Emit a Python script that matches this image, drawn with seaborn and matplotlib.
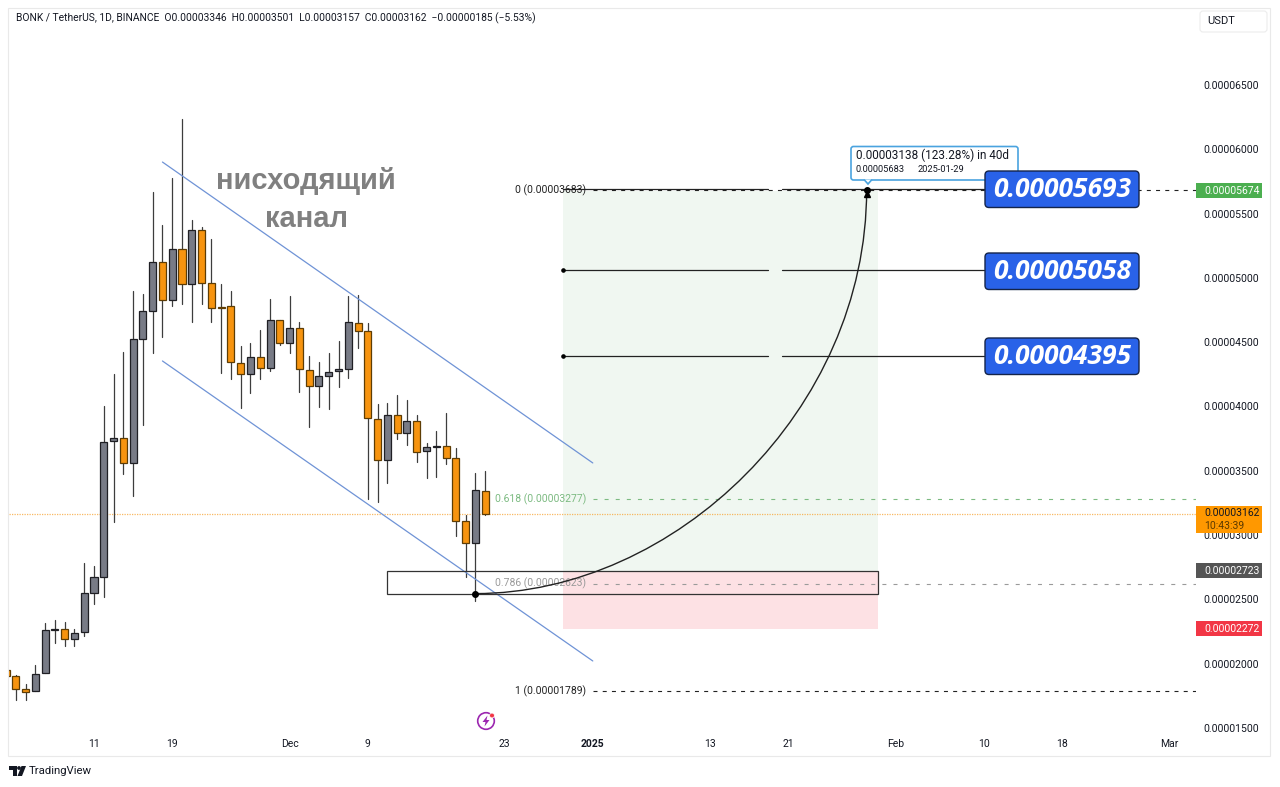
import numpy as np
import pandas as pd
import seaborn as sns
import matplotlib.pyplot as plt
import matplotlib.dates as mdates
from matplotlib.patches import Rectangle, FancyBboxPatch, PathPatch, Polygon, Circle
from matplotlib.path import Path
from matplotlib.ticker import FuncFormatter
from matplotlib.transforms import Affine2D

# prices are in units of 0.00000001
first_day = '2024-11-02'
opens = [1950, 1904, 1801, 1785, 1925, 2262, 2268, 2192, 2244, 2548, 2672, 3729, 3753, 3563, 4527, 4743, 5126,
         4826, 5222, 4950, 5370, 4958, 4776, 4781, 4341, 4253, 4383, 4297, 4673, 4496, 4610, 4284, 4162, 4240,
         4274, 4294, 4652, 4587, 3903, 3586, 3936, 3792, 3885, 3652, 3687, 3693, 3597, 3110, 2941, 3346]
highs = [1960, 1912, 1842, 1988, 2319, 2340, 2327, 2268, 2785, 2760, 4004, 4250, 4426, 4900, 4875, 5668, 5409,
         5775, 6236, 5450, 5394, 5305, 4953, 4900, 4470, 4496, 4595, 4834, 4673, 4859, 4659, 4393, 4348, 4418,
         4509, 4859, 4869, 4647, 4017, 4030, 4089, 4051, 3936, 3714, 3807, 3952, 3675, 3156, 3481, 3501]
lows = [1850, 1718, 1718, 1785, 1925, 2163, 2138, 2138, 2215, 2464, 2516, 3104, 3475, 3306, 3856, 4418, 4538,
        4784, 4797, 4659, 4797, 4655, 4263, 4212, 3988, 4107, 4212, 4278, 4478, 4418, 4115, 3843, 3999, 3983,
        4149, 4219, 4455, 3278, 3257, 3408, 3750, 3698, 3569, 3442, 3449, 3551, 2993, 2672, 2488, 3157]
closes = [1904, 1806, 1782, 1920, 2262, 2268, 2192, 2241, 2548, 2672, 3726, 3753, 3563, 4527, 4740, 5126, 4826,
          5222, 4950, 5370, 4958, 4768, 4766, 4344, 4250, 4385, 4297, 4670, 4496, 4610, 4289, 4162, 4235, 4266,
          4292, 4655, 4589, 3908, 3586, 3936, 3792, 3885, 3649, 3683, 3695, 3600, 3112, 2941, 3348, 3162]

price_ticks = [1500, 2000, 2500, 3000, 3500, 4000, 4500, 5000, 5500, 6000, 6500]
date_ticks = ['2024-11-11', '2024-11-19', '2024-12-01', '2024-12-09', '2024-12-23', '2025-01-01',
              '2025-01-13', '2025-01-21', '2025-02-01', '2025-02-10', '2025-02-18', '2025-03-01']
date_labels = ['11', '19', 'Dec', '9', '23', '2025', '13', '21', 'Feb', '10', '18', 'Mar']

channel_dates = ['2024-11-18', '2025-01-01']
channel_upper = [5901, 3561]
channel_lower = [4354, 2021]

position_dates = ['2024-12-29', '2025-01-30']
entry_box_start = '2024-12-11'
entry_price = 2723
target_price = 5674
stop_price = 2272
box_low = 2538

fib_start = '2025-01-01'
fib_prices = [5683, 3277, 2623, 1789]
fib_labels = ['0 (0.00003683)', '0.618 (0.00003277)', '0.786 (0.00002623)', '1 (0.00001789)']
fib_colors = ['#222222', '#7dbb82', '#9a9a9a', '#222222']

target_levels = [5693, 5058, 4395]
target_start = '2024-12-29'
target_gap = [68.9, 70.35]
target_end = '2025-02-10'

curve_start = '2024-12-20'
curve_days = [0, 20.4, 40, 40]
curve_prices = [2545, 2545, 3973, 5683]

last_price = 3162

sns.set_theme(style='white')
plt.rcParams['font.family'] = ['Roboto', 'DejaVu Sans']

W, H = 1280, 787
fig = plt.figure(figsize=(W / 100, H / 100), dpi=100)
ax = fig.add_axes([9 / W, 1 - 756 / H, (1196 - 9) / W, (756 - 8) / H])
px = Affine2D().scale(1, -1).translate(0, H)  # pixel coords, y going down

days = mdates.date2num(pd.date_range(first_day, periods=len(opens)))
num = lambda d: mdates.date2num(pd.Timestamp(d))

candles = pd.DataFrame({'day': days, 'open': opens, 'high': highs, 'low': lows, 'close': closes})
candles['up'] = candles['close'] >= candles['open']
candles['bottom'] = candles[['open', 'close']].min(axis=1)
candles['height'] = (candles['close'] - candles['open']).abs()

wicks = candles.melt(id_vars='day', value_vars=['high', 'low'], value_name='price')
sns.lineplot(data=wicks, x='day', y='price', units='day', estimator=None, sort=False,
             color='#3d3d3d', linewidth=0.9, legend=False, ax=ax, zorder=3)

for up, fill, edge in [(True, '#787b86', '#1f1f24'), (False, '#f7940f', '#5e3d05')]:
    part = candles[candles['up'] == up]
    sns.barplot(x=part['day'].values, y=part['height'].values, bottom=part['bottom'].values, native_scale=True,
                width=0.72, color=fill, saturation=1, edgecolor=edge, linewidth=0.9, errorbar=None, ax=ax, zorder=4)

# long / short position shading
x0, x1 = num(position_dates[0]), num(position_dates[1]) + 0.16
ax.add_patch(Rectangle((x0, entry_price), x1 - x0, target_price - entry_price, fc='#f0f7f1', ec='none', zorder=1))
ax.add_patch(Rectangle((x0, stop_price), x1 - x0, entry_price - stop_price, fc='#fde1e4', ec='none', zorder=1))

# fib levels
for price, label, color in zip(fib_prices, fib_labels, fib_colors):
    dashes = (0, (3.6, 4.7)) if color == '#222222' else (0, (3.6, 6.4))
    ax.plot([num(fib_start), ax.get_xlim()[1] + 500], [price, price], color=color, lw=0.8, ls=dashes, zorder=2)
    ax.text(num(fib_start) - 0.7, price, label, color=color, fontsize=7.5, ha='right', va='center', zorder=2)
ax.axhline(last_price, color='#f7a83c', lw=0.9, ls=(0, (1, 1)), alpha=0.8, zorder=2)

# channel
for chan in (channel_upper, channel_lower):
    ax.plot([num(d) for d in channel_dates], chan, color='#6f93d6', lw=0.9, zorder=5)

ax.add_patch(Rectangle((num(entry_box_start), box_low), x1 - num(entry_box_start), entry_price - box_low,
                       fc='none', ec='#333333', lw=0.9, zorder=5))

# target lines with the small break in the middle
for i, price in enumerate(target_levels):
    a = num('2024-11-11')
    ax.plot([num(target_start), a + target_gap[0]], [price, price], color='#222222', lw=0.9, zorder=5)
    ax.plot([a + target_gap[1], num(target_end)], [price, price], color='#222222', lw=0.9, zorder=5)
    if i > 0:
        ax.plot(num(target_start), price, 'o', color='black', ms=2.3, zorder=6)

# projection curve
cx = [num(curve_start) + d for d in curve_days]
ax.add_patch(PathPatch(Path(list(zip(cx, curve_prices)), [Path.MOVETO, Path.CURVE4, Path.CURVE4, Path.CURVE4]),
                       fc='none', ec='#222222', lw=1.0, zorder=6))
ax.plot(cx[0], curve_prices[0], 'o', color='black', ms=4, zorder=7)
ax.plot(cx[-1], curve_prices[-1], 'o', color='black', ms=4, zorder=7)
ax.plot(cx[-1], curve_prices[-1] - 28, '^', color='black', ms=4.5, zorder=7)

ax.text(num('2024-11-11') + 21.7, 5750, 'нисходящий', family='Liberation Sans', weight='bold',
        fontsize=21, color='#808080', ha='center', va='center', zorder=5)
ax.text(num('2024-11-11') + 21.7, 5458, 'канал', family='Liberation Sans', weight='bold',
        fontsize=21, color='#808080', ha='center', va='center', zorder=5)

# axes
ax.set_xlim(num('2024-11-11') + (9 - 94) / 9.78, num('2024-11-11') + (1196 - 94) / 9.78)
ax.set_ylim(1282, 7099)
ax.set(xlabel=None, ylabel=None)
ax.set_xticks([num(d) for d in date_ticks])
ax.set_xticklabels(date_labels)
ax.set_yticks(price_ticks)
ax.yaxis.set_major_formatter(FuncFormatter(lambda v, _: f'{v * 1e-8:.8f}'))
ax.yaxis.tick_right()
ax.tick_params(axis='y', length=0, pad=5.6, labelsize=7.5, labelcolor='#131722')
ax.tick_params(axis='x', length=0, pad=-12.5, labelsize=7.5, labelcolor='#131722')
for lab in ax.get_xticklabels():
    if lab.get_text() == '2025':
        lab.set_fontweight('bold')
sns.despine(ax=ax, left=True, bottom=True, top=True, right=True)

# pane frame
fig.add_artist(Rectangle((8, 8), 1262, 748, transform=px, fc='none', ec='#e9e9e9', lw=0.8))
fig.add_artist(FancyBboxPatch((1200, 11), 67, 21, boxstyle='round,pad=0,rounding_size=3', transform=px,
                              fc='white', ec='#ececec', lw=0.8))
fig.text(1207, 21, 'USDT', transform=px, fontsize=8, color='#131722', va='center')
fig.text(16, 18.5, 'BONK / TetherUS, 1D, BINANCE  O0.00003346  H0.00003501  L0.00003157  C0.00003162  −0.00000185 (−5.53%)',
         transform=px, fontsize=7.42, color='#131722', va='center')

# blue target labels
for top, price in zip([171, 253, 338], target_levels):
    ax.add_artist(FancyBboxPatch((985, top), 154, 36.5, boxstyle='round,pad=0,rounding_size=4', transform=px,
                                 fc='#2962e8', ec='#14244a', lw=1.0, zorder=9, clip_on=False))
    ax.text(1062, top + 18.5, f'{price * 1e-8:.8f}', transform=px, family='Open Sans', weight='bold', style='italic',
            fontsize=19, color='white', ha='center', va='center', zorder=10, clip_on=False)

# tooltip
ax.add_artist(FancyBboxPatch((851, 146.5), 167, 33.5, boxstyle='round,pad=0,rounding_size=2.5', transform=px,
                             fc='white', ec='#4aa3df', lw=1.2, zorder=8, clip_on=False))
ax.add_artist(Polygon([(864, 179.5), (868, 184), (872, 179.5)], closed=False, transform=px, fc='white', ec='#4aa3df',
                      lw=1.2, zorder=8, clip_on=False))
ax.text(856, 155.5, '0.00003138 (123.28%) in 40d', transform=px, fontsize=8.5, color='#131722', va='center',
        zorder=9, clip_on=False)
ax.text(856, 170, '0.00005683', transform=px, fontsize=6.7, color='#131722', va='center', zorder=9, clip_on=False)
ax.text(918, 170, '2025-01-29', transform=px, fontsize=6.7, color='#131722', va='center', zorder=9, clip_on=False)

# price tags on the scale
for top, bottom, color, label in [(183, 198, '#4caf50', '0.00005674'), (563, 578, '#555555', '0.00002723'),
                                  (621, 636, '#f23645', '0.00002272')]:
    ax.add_artist(Rectangle((1196, top), 66, bottom - top, transform=px, fc=color, ec='none', zorder=9, clip_on=False))
    ax.text(1204, (top + bottom) / 2, label, transform=px, fontsize=7.5, color='white', va='center', zorder=10,
            clip_on=False)
ax.add_artist(Rectangle((1196, 506), 66, 27, transform=px, fc='#ff9800', ec='none', zorder=9, clip_on=False))
ax.text(1204, 513.5, '0.00003162', transform=px, fontsize=7.5, color='#131722', va='center', zorder=10, clip_on=False)
ax.text(1204, 526, '10:43:39', transform=px, fontsize=7.5, color='#5c3a00', va='center', zorder=10, clip_on=False)

# icon on the time scale
ax.add_artist(Circle((486, 721), 8.3, transform=px, fc='white', ec='#9c27b0', lw=1.2, zorder=8, clip_on=False))
ax.add_artist(Polygon([(487.5, 715.5), (482.5, 722), (485.5, 722), (484.5, 726.5), (489.5, 720), (486.5, 720)],
                      transform=px, fc='#9c27b0', ec='none', zorder=9, clip_on=False))
ax.add_artist(Circle((492, 715.5), 2.4, transform=px, fc='#f23645', ec='white', lw=0.5, zorder=9, clip_on=False))

# TradingView logo
fig.add_artist(Polygon([(9, 766), (16.5, 766), (16.5, 776), (12.5, 776), (12.5, 770), (9, 770)], transform=px,
                       fc='#131722', ec='none'))
fig.add_artist(Circle((19, 768), 1.9, transform=px, fc='#131722', ec='none'))
fig.add_artist(Polygon([(21.5, 766), (26, 766), (22, 776), (17.5, 776)], transform=px, fc='#131722', ec='none'))
fig.text(29, 771, 'TradingView', transform=px, fontsize=8.2, color='#131722', va='center')

plt.savefig('out.png', dpi=100)
plt.close()
